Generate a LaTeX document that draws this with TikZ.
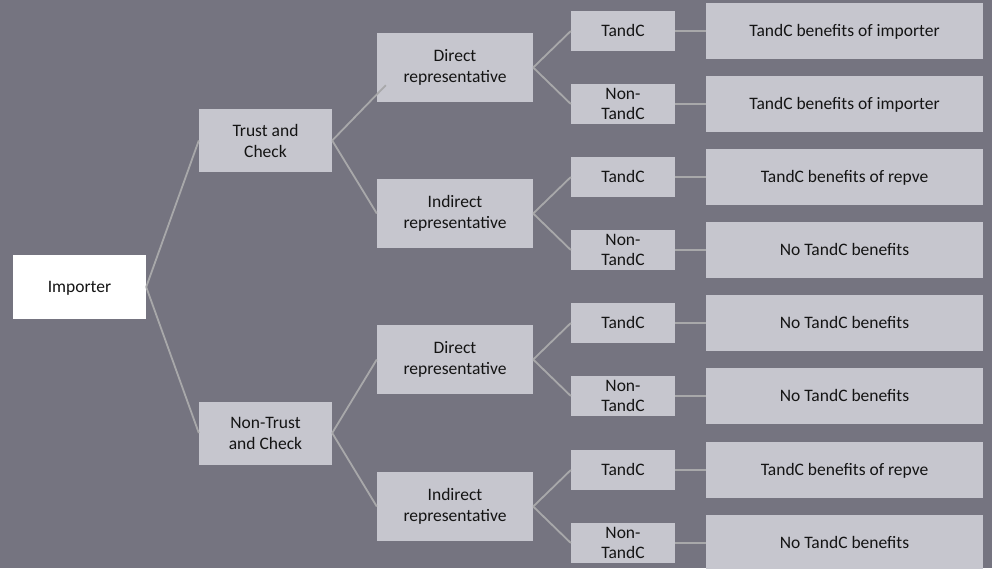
\documentclass[tikz,border=0pt]{standalone}
\usepackage{fontspec}
\setmainfont{Carlito}
\usetikzlibrary{calc}
\definecolor{bgcol}{RGB}{117,116,128}
\definecolor{boxcol}{RGB}{198,198,206}
\definecolor{linkcol}{RGB}{168,168,170}
\definecolor{inkcol}{RGB}{20,20,20}
\begin{document}
\begin{tikzpicture}[x=1pt,y=-1pt,
  every node/.style={font=\fontsize{17.5}{21}\selectfont, text=inkcol, align=center, inner sep=0pt},
  oneline/.style={text height=11.5pt, text depth=0pt},
  card/.style={fill=boxcol, draw=none},
  rootcard/.style={fill=white, oneline, minimum width=133pt, minimum height=64pt},
  trustcard/.style={card, minimum width=133pt, minimum height=63pt},
  repcard/.style={card, minimum width=156pt, minimum height=69pt},
  leafcard/.style={card, minimum width=104pt, minimum height=40pt, font=\fontsize{17.5}{20}\selectfont},
  leafone/.style={leafcard, oneline},
  resultcard/.style={card, oneline, minimum width=277pt, minimum height=56pt},
  link/.style={draw=linkcol, line width=1.8pt}]
\fill[bgcol] (0,0) rectangle (992,568);
\useasboundingbox (0,0) rectangle (992,568);

% root
\node[rootcard] (imp) at (79.5,287) {Importer};

% trust level
\node[trustcard] (t1) at (265.5,140.5) {Trust and\\Check};
\node[trustcard] (t2) at (265.5,433) {Non-Trust\\and Check};

% representative level
\node[repcard] (d1) at (455,67.5) {Direct\\representative};
\node[repcard] (i1) at (455,213.5) {Indirect\\representative};
\node[repcard] (d2) at (455,359.5) {Direct\\representative};
\node[repcard] (i2) at (455,506.5) {Indirect\\representative};

% status level
\node[leafone] (l1) at (623,31) {TandC};
\node[leafcard] (l2) at (623,104) {Non-\\TandC};
\node[leafone] (l3) at (623,177) {TandC};
\node[leafcard] (l4) at (623,250) {Non-\\TandC};
\node[leafone] (l5) at (623,323) {TandC};
\node[leafcard] (l6) at (623,396) {Non-\\TandC};
\node[leafone] (l7) at (623,470) {TandC};
\node[leafcard] (l8) at (623,543) {Non-\\TandC};

% outcomes
\node[resultcard] (r1) at (844.5,31) {TandC benefits of importer};
\node[resultcard] (r2) at (844.5,104) {TandC benefits of importer};
\node[resultcard] (r3) at (844.5,177) {TandC benefits of repve};
\node[resultcard] (r4) at (844.5,250) {No TandC benefits};
\node[resultcard] (r5) at (844.5,323) {No TandC benefits};
\node[resultcard] (r6) at (844.5,396) {No TandC benefits};
\node[resultcard] (r7) at (844.5,470) {TandC benefits of repve};
\node[resultcard] (r8) at (844.5,543) {No TandC benefits};

% connectors
\coordinate (d1in) at ($(d1.south west)+(9,-17)$);
\draw[link] (imp.east) -- (t1.west);
\draw[link] (imp.east) -- (t2.west);
\draw[link] (t1.east) -- (d1in);
\draw[link] (t1.east) -- (i1.west);
\draw[link] (t2.east) -- (d2.west);
\draw[link] (t2.east) -- (i2.west);
\draw[link] (d1.east) -- (l1.west);
\draw[link] (d1.east) -- (l2.west);
\draw[link] (i1.east) -- (l3.west);
\draw[link] (i1.east) -- (l4.west);
\draw[link] (d2.east) -- (l5.west);
\draw[link] (d2.east) -- (l6.west);
\draw[link] (i2.east) -- (l7.west);
\draw[link] (i2.east) -- (l8.west);
\foreach \k in {1,...,8} {
  \draw[link] (l\k.east) -- (r\k.west);
}
\end{tikzpicture}
\end{document}
